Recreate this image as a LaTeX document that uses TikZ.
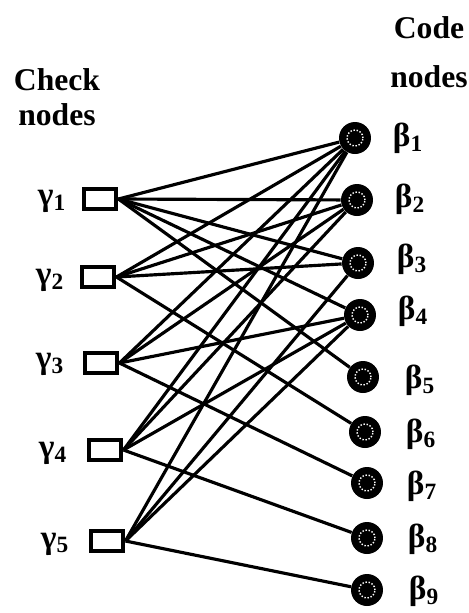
\documentclass[tikz,border=0pt]{standalone}
\usepackage{fontspec}
\setmainfont{Liberation Serif}
\usepackage{tikz}
\usetikzlibrary{arrows,shapes}
\pgfdeclarelayer{background}
\pgfsetlayers{background,main}
\tikzstyle{check}=[rectangle,draw=black,line width=2.8pt,fill=white,minimum width=0.64cm,minimum height=0.4cm,inner sep=0pt]
\tikzstyle{code}=[circle,fill=black,minimum size=0.64cm,inner sep=0pt,
    path picture={\draw[white,densely dotted,line width=0.8pt] (path picture bounding box.center) circle (0.16cm);}]
\tikzstyle{tag}=[inner sep=0pt,font=\bfseries\fontsize{19}{21}\selectfont]
\tikzstyle{head}=[inner sep=0pt,align=center,font=\bfseries\fontsize{18}{20}\selectfont]
\tikzstyle{edge} = [draw,line width=1.8pt,-]

\begin{document}
\begin{tikzpicture}[x=0.02cm,y=-0.02cm]
    \useasboundingbox (0,0) rectangle (469,613);
    % Column headings
    \node[head] (checkhead) at (57,97) {Check\\nodes};
    \node[head] (codehead) at (429,52) {Code\\[8pt]nodes};
    % First we draw the check nodes
    \foreach \pos/\name/\lpos/\i in {{(100,199)/g1/(52,201)/1}, {(98,277)/g2/(50,280)/2},
        {(101,363)/g3/(50,364)/3}, {(105,450)/g4/(53,453)/4}, {(107,541)/g5/(55,544)/5}}
    {
        \node[check] (\name) at \pos {};
        \node[tag] (l\name) at \lpos {γ\textsubscript{\i}};
    }
    % Then the code nodes
    \foreach \pos/\name/\lpos/\i in {{(355,138)/b1/(408,138)/1}, {(357,200)/b2/(410,199)/2},
        {(358,263)/b3/(412,259)/3}, {(360,315)/b4/(413,311)/4}, {(363,377)/b5/(420,380)/5},
        {(365,432)/b6/(421,434)/6}, {(367,483)/b7/(422,486)/7}, {(367,538)/b8/(423,539)/8},
        {(367,590)/b9/(424,591)/9}}
    {
        \node[code] (\name) at \pos {};
        \node[tag] (l\name) at \lpos {β\textsubscript{\i}};
    }
    % Connect check nodes with code nodes
    \begin{pgfonlayer}{background}
    \foreach \source/ \dest in {g1/b1, g1/b2, g1/b3, g1/b4, g1/b5,
        g2/b1, g2/b2, g2/b3, g2/b6,
        g3/b1, g3/b2, g3/b4, g3/b7,
        g4/b1, g4/b2, g4/b4, g4/b8,
        g5/b1, g5/b3, g5/b4, g5/b9}
        \path[edge] (\source.east) -- (\dest) ;
    \end{pgfonlayer}
\end{tikzpicture}
\end{document}
